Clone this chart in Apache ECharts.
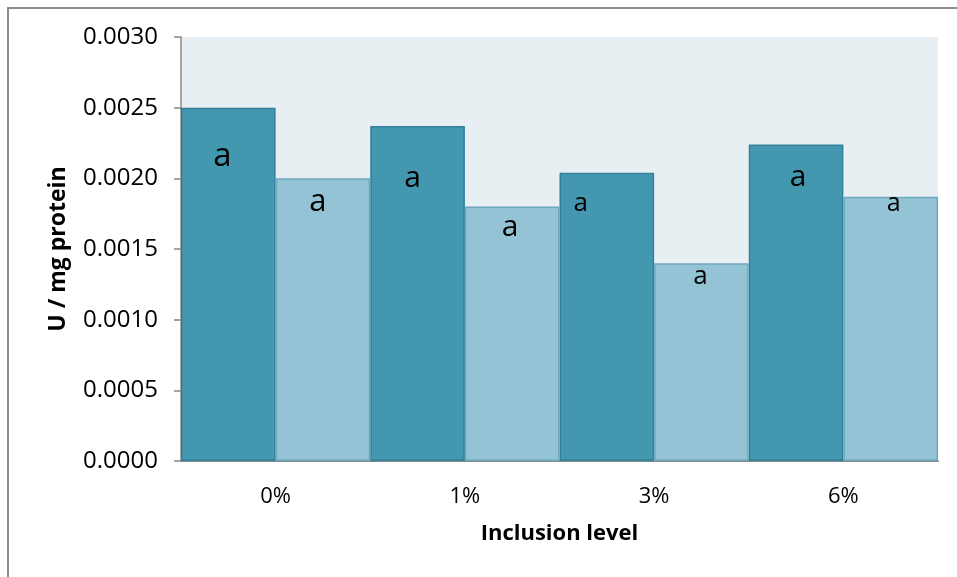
<!DOCTYPE html>
<html>
<head>
<meta charset="utf-8">
<script src="https://cdn.jsdelivr.net/npm/echarts@6/dist/echarts.min.js"></script>
<style>
html,body{margin:0;padding:0;background:#fff;}
#chart{width:957px;height:577px;}
</style>
</head>
<body>
<div id="chart"></div>
<script>
// ---- data ----
const categories = ['0%', '1%', '3%', '6%'];
const seriesA = [0.00250, 0.00237, 0.00204, 0.00224];   // dark bars
const seriesB = [0.00200, 0.00180, 0.00140, 0.00187];   // light bars
const lettersA = ['a', 'a', 'a', 'a'];
const lettersB = ['a', 'a', 'a', 'a'];
const yTicks = { min: 0, max: 0.003, interval: 0.0005 };
const yAxisTitle = 'U / mg protein';
const xAxisTitle = 'Inclusion level';

// ---- label placement (style only) ----
const layoutA = [
  { dx: -6, dy: 49, size: 33 },
  { dx: -5, dy: 52, size: 30 },
  { dx: -26, dy: 31, size: 26 },
  { dx: 2, dy: 33, size: 30 }
];
const layoutB = [
  { dx: -5, dy: 24, size: 31 },
  { dx: -2, dy: 21, size: 30 },
  { dx: -1, dy: 13, size: 26 },
  { dx: 3, dy: 7, size: 25 }
];

function build(values, letters, layout) {
  return values.map((v, i) => ({
    value: v,
    label: {
      show: true,
      formatter: letters[i],
      position: ['50%', layout[i].dy],
      offset: [layout[i].dx, 0],
      align: 'center',
      verticalAlign: 'middle',
      fontSize: layout[i].size,
      color: '#000',
      fontFamily: 'Open Sans'
    }
  }));
}

const chart = echarts.init(document.getElementById('chart'), null, { renderer: 'canvas' });
chart.setOption({
  animation: false,
  backgroundColor: '#ffffff',
  textStyle: { fontFamily: 'Open Sans' },
  graphic: [{
    type: 'rect',
    shape: { x: 8, y: 8, width: 1200, height: 1200 },
    style: { fill: 'none', stroke: '#8c8c8c', lineWidth: 2 },
    silent: true
  }],
  grid: {
    left: 181, right: 19, top: 37, bottom: 116,
    show: true, backgroundColor: '#e8eff3', borderWidth: 0
  },
  xAxis: {
    type: 'category',
    data: categories,
    name: xAxisTitle,
    nameLocation: 'middle',
    nameGap: 62,
    nameTextStyle: { fontSize: 22, fontWeight: 'bold', color: '#000', fontFamily: 'Open Sans' },
    axisLine: { show: true, lineStyle: { color: '#888888', width: 2 } },
    axisTick: { show: false },
    axisLabel: { fontSize: 22, color: '#000', margin: 25, fontFamily: 'Open Sans' },
    splitLine: { show: false }
  },
  yAxis: {
    type: 'value',
    min: yTicks.min, max: yTicks.max, interval: yTicks.interval,
    name: yAxisTitle,
    nameLocation: 'middle',
    nameGap: 111,
    nameTextStyle: { fontSize: 23, fontWeight: 'bold', color: '#000', fontFamily: 'Open Sans' },
    axisLine: { show: true, lineStyle: { color: '#888888', width: 1.5 } },
    axisTick: { show: true, length: 7, lineStyle: { color: '#888888', width: 1.5 } },
    axisLabel: {
      fontSize: 24, color: '#000', margin: 23, fontFamily: 'Open Sans',
      formatter: v => v.toFixed(4)
    },
    splitLine: { show: false }
  },
  series: [
    {
      type: 'bar',
      data: build(seriesA, lettersA, layoutA),
      barGap: '0%',
      barCategoryGap: '0%',
      itemStyle: { color: '#4398b0', borderColor: '#30809a', borderWidth: 1.5 }
    },
    {
      type: 'bar',
      data: build(seriesB, lettersB, layoutB),
      barGap: '0%',
      barCategoryGap: '0%',
      itemStyle: { color: '#93c3d4', borderColor: '#6ea8bd', borderWidth: 1.5 }
    }
  ]
});
</script>
</body>
</html>
